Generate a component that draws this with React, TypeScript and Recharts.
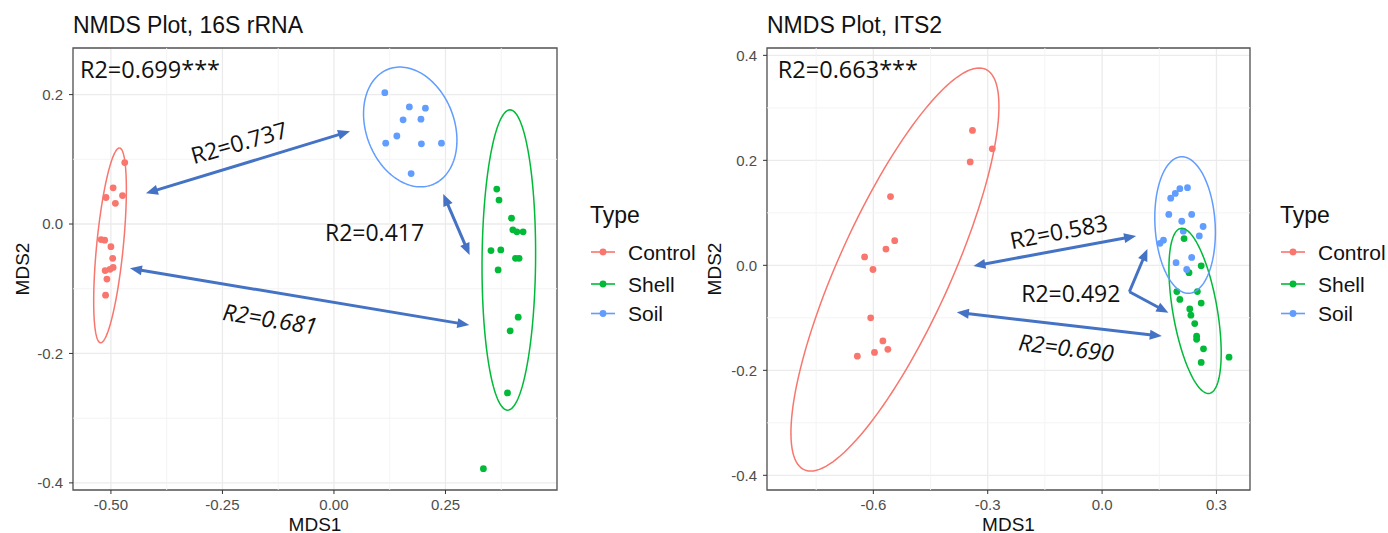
import React from "react";
import {
  ScatterChart,
  Scatter,
  XAxis,
  YAxis,
  CartesianGrid,
  ReferenceLine,
  ReferenceArea,
  ReferenceDot,
} from "recharts";

const typeNames = ["Control", "Shell", "Soil"];
const typeColors = ["#F8766D", "#00BA38", "#619CFF"];
const arrowBlue = "#4472C4";

// ---------- 16S rRNA ----------
const rrnaControl = [
  { x: -0.469, y: 0.095 }, { x: -0.495, y: 0.056 }, { x: -0.511, y: 0.041 },
  { x: -0.474, y: 0.044 }, { x: -0.49, y: 0.032 }, { x: -0.522, y: -0.024 },
  { x: -0.514, y: -0.025 }, { x: -0.5, y: -0.035 }, { x: -0.496, y: -0.053 },
  { x: -0.495, y: -0.067 }, { x: -0.502, y: -0.07 }, { x: -0.513, y: -0.072 },
  { x: -0.509, y: -0.085 }, { x: -0.512, y: -0.11 },
];
const rrnaShell = [
  { x: 0.365, y: 0.054 }, { x: 0.37, y: 0.037 }, { x: 0.398, y: 0.009 },
  { x: 0.401, y: -0.009 }, { x: 0.41, y: -0.012 }, { x: 0.424, y: -0.012 },
  { x: 0.352, y: -0.041 }, { x: 0.374, y: -0.04 }, { x: 0.407, y: -0.053 },
  { x: 0.415, y: -0.053 }, { x: 0.368, y: -0.071 }, { x: 0.413, y: -0.144 },
  { x: 0.395, y: -0.165 }, { x: 0.389, y: -0.261 }, { x: 0.335, y: -0.378 },
];
const rrnaSoil = [
  { x: 0.114, y: 0.203 }, { x: 0.169, y: 0.181 }, { x: 0.205, y: 0.179 },
  { x: 0.155, y: 0.161 }, { x: 0.195, y: 0.162 }, { x: 0.141, y: 0.136 },
  { x: 0.116, y: 0.125 }, { x: 0.196, y: 0.124 }, { x: 0.241, y: 0.125 },
  { x: 0.173, y: 0.078 },
];
// confidence ellipses: centre + two conjugate semi-axes (data units)
const rrnaEllipses = [
  { type: 0, cx: -0.502, cy: -0.033, ax: 0.021, ay: 0.1505, bx: 0.03, by: 0 },
  { type: 1, cx: 0.392, cy: -0.0556, ax: 0.0027, ay: 0.232, bx: 0.06, by: 0 },
  { type: 2, cx: 0.171, cy: 0.15, ax: -0.012, ay: 0.092, bx: 0.104, by: -0.01 },
];
const rrnaArrows = [
  { x1: -0.4215, y1: 0.0474, x2: 0.0359, y2: 0.1434, both: true },
  { x1: 0.245, y1: 0.0464, x2: 0.304, y2: -0.0479, both: true },
  { x1: -0.4574, y1: -0.0685, x2: 0.3034, y2: -0.1561, both: true },
];
const rrnaLabels = [
  { x: -0.5695, y: 0.2261, text: "R2=0.699***", angle: 0, corner: true, italic: false },
  { x: -0.213, y: 0.1267, text: "R2=0.737", angle: -16, corner: false, italic: false },
  { x: 0.091, y: -0.0116, text: "R2=0.417", angle: 0, corner: false, italic: false },
  { x: -0.143, y: -0.1458, text: "R2=0.681", angle: 9, corner: false, italic: true },
];
const rrnaXTicks = [-0.5, -0.25, 0, 0.25];
const rrnaXMinor = [-0.375, -0.125, 0.125, 0.375];
const rrnaYTicks = [-0.4, -0.2, 0, 0.2];
const rrnaYMinor = [-0.3, -0.1, 0.1];

// ---------- ITS2 ----------
const itsControl = [
  { x: -0.34, y: 0.257 }, { x: -0.288, y: 0.222 }, { x: -0.346, y: 0.197 },
  { x: -0.555, y: 0.131 }, { x: -0.544, y: 0.047 }, { x: -0.567, y: 0.031 },
  { x: -0.623, y: 0.016 }, { x: -0.601, y: -0.008 }, { x: -0.607, y: -0.1 },
  { x: -0.575, y: -0.144 }, { x: -0.562, y: -0.16 }, { x: -0.597, y: -0.166 },
  { x: -0.642, y: -0.173 },
];
const itsShell = [
  { x: 0.215, y: 0.051 }, { x: 0.26, y: -0.001 }, { x: 0.228, y: -0.014 },
  { x: 0.196, y: -0.05 }, { x: 0.25, y: -0.05 }, { x: 0.204, y: -0.065 },
  { x: 0.26, y: -0.072 }, { x: 0.23, y: -0.083 }, { x: 0.233, y: -0.095 },
  { x: 0.243, y: -0.111 }, { x: 0.248, y: -0.135 }, { x: 0.248, y: -0.141 },
  { x: 0.266, y: -0.159 }, { x: 0.26, y: -0.185 }, { x: 0.333, y: -0.175 },
];
const itsSoil = [
  { x: 0.224, y: 0.148 }, { x: 0.204, y: 0.146 }, { x: 0.192, y: 0.137 },
  { x: 0.18, y: 0.128 }, { x: 0.175, y: 0.097 }, { x: 0.235, y: 0.097 },
  { x: 0.209, y: 0.084 }, { x: 0.265, y: 0.074 }, { x: 0.213, y: 0.065 },
  { x: 0.255, y: 0.056 }, { x: 0.161, y: 0.048 }, { x: 0.152, y: 0.042 },
  { x: 0.235, y: 0.015 }, { x: 0.194, y: 0.005 }, { x: 0.222, y: -0.008 },
];
const itsEllipses = [
  { type: 0, cx: -0.5434, cy: -0.008, ax: 0.221, ay: 0.384, bx: 0.16, by: 0 },
  { type: 1, cx: 0.2439, cy: -0.0868, ax: -0.0349, ay: 0.1573, bx: 0.059, by: 0 },
  { type: 2, cx: 0.2177, cy: 0.0768, ax: -0.0085, ay: 0.13, bx: 0.079, by: 0 },
];
const itsArrows = [
  { x1: -0.3375, y1: -0.0013, x2: 0.0892, y2: 0.056, both: true },
  { x1: -0.381, y1: -0.0896, x2: 0.1566, y2: -0.1348, both: true },
  { x1: 0.0716, y1: -0.0503, x2: 0.1188, y2: 0.0311, both: false },
  { x1: 0.0716, y1: -0.0503, x2: 0.1739, y2: -0.0904, both: false },
];
const itsLabels = [
  { x: -0.8505, y: 0.3565, text: "R2=0.663***", angle: 0, corner: true, italic: false },
  { x: -0.114, y: 0.0654, text: "R2=0.583", angle: -11, corner: false, italic: false },
  { x: -0.082, y: -0.0519, text: "R2=0.492", angle: 0, corner: false, italic: false },
  { x: -0.094, y: -0.1558, text: "R2=0.690", angle: 7, corner: false, italic: true },
];
const itsXTicks = [-0.6, -0.3, 0, 0.3];
const itsXMinor = [-0.75, -0.45, -0.15, 0.15];
const itsYTicks = [-0.4, -0.2, 0, 0.2, 0.4];
const itsYMinor = [-0.3, -0.1, 0.1, 0.3];

const AXIS_FONT = "'Liberation Sans', Arial, sans-serif";
const NOTE_FONT = "'Open Sans', sans-serif";

function ellipseOutline(e: any) {
  const pts = [];
  const n = 144;
  for (let i = 0; i <= n; i++) {
    const t = (i / n) * Math.PI * 2;
    pts.push({
      x: e.cx + e.ax * Math.cos(t) + e.bx * Math.sin(t),
      y: e.cy + e.ay * Math.cos(t) + e.by * Math.sin(t),
    });
  }
  return pts;
}

const dotShape = (color: string) => (p: any) =>
  <circle cx={p.cx} cy={p.cy} r={3.4} fill={color} />;

const arrowShape = (both: boolean) => (p: any) => {
  const { x1, y1, x2, y2 } = p;
  const len = Math.hypot(x2 - x1, y2 - y1) || 1;
  const ux = (x2 - x1) / len;
  const uy = (y2 - y1) / len;
  const hl = 12;
  const hw = 5;
  const head = (tx: number, ty: number, dx: number, dy: number) => {
    const bx = tx - dx * hl;
    const by = ty - dy * hl;
    return `${tx},${ty} ${bx - dy * hw},${by + dx * hw} ${bx + dy * hw},${by - dx * hw}`;
  };
  const sx = both ? x1 + ux * (hl - 2) : x1;
  const sy = both ? y1 + uy * (hl - 2) : y1;
  return (
    <g>
      <line x1={sx} y1={sy} x2={x2 - ux * (hl - 2)} y2={y2 - uy * (hl - 2)}
        stroke={arrowBlue} strokeWidth={3} />
      {both && <polygon points={head(x1, y1, -ux, -uy)} fill={arrowBlue} />}
      <polygon points={head(x2, y2, ux, uy)} fill={arrowBlue} />
    </g>
  );
};

const labelShape = (l: any) => (p: any) => {
  if (l.corner) {
    return (
      <text x={p.cx} y={p.cy} fontFamily={NOTE_FONT} fontSize={23.5} fill="#111">
        {l.text}
      </text>
    );
  }
  return (
    <text
      transform={`translate(${p.cx},${p.cy}) rotate(${l.angle})`}
      textAnchor="middle"
      dominantBaseline="central"
      fontFamily={NOTE_FONT}
      fontSize={23}
      fontStyle={l.italic ? "italic" : "normal"}
      fill="#111"
    >
      {l.text}
    </text>
  );
};

function Panel(props: any) {
  const {
    offset, width, plotLeft, plotRight, title, xDomain, yDomain,
    xTicks, yTicks, xMinor, yMinor, xDigits, series, ellipses, arrows, labels,
    yTitleX,
  } = props;
  const height = 533;
  const plotTop = 48;
  const plotBottom = 490;
  const legendRows = [252, 284, 313.5];
  return (
    <div style={{ position: "absolute", left: offset, top: 0, width, height }}>
      <ScatterChart
        width={width}
        height={height}
        margin={{ top: plotTop, right: width - plotRight, bottom: 0, left: 0 }}
      >
        <CartesianGrid stroke="#ebebeb" strokeWidth={1.3} />
        {xMinor.map((v: number) => (
          <ReferenceLine key={"mx" + v} x={v} stroke="#f3f3f3" strokeWidth={0.9} />
        ))}
        {yMinor.map((v: number) => (
          <ReferenceLine key={"my" + v} y={v} stroke="#f3f3f3" strokeWidth={0.9} />
        ))}
        <XAxis
          type="number"
          dataKey="x"
          domain={xDomain}
          ticks={xTicks}
          interval={0}
          allowDataOverflow
          height={height - plotBottom}
          axisLine={false}
          tickLine={{ stroke: "#333" }}
          tickSize={4}
          tickMargin={5}
          tickFormatter={(v: number) => v.toFixed(xDigits)}
          tick={{ fontSize: 15, fill: "#4d4d4d", fontFamily: AXIS_FONT }}
        />
        <YAxis
          type="number"
          dataKey="y"
          domain={yDomain}
          ticks={yTicks}
          interval={0}
          allowDataOverflow
          width={plotLeft}
          axisLine={false}
          tickLine={{ stroke: "#333" }}
          tickSize={4}
          tickMargin={6}
          tickFormatter={(v: number) => v.toFixed(1)}
          tick={{ fontSize: 15, fill: "#4d4d4d", fontFamily: AXIS_FONT }}
        />
        {series.map((data: any[], i: number) => (
          <Scatter
            key={"pts" + i}
            data={data}
            fill={typeColors[i]}
            shape={dotShape(typeColors[i])}
            isAnimationActive={false}
          />
        ))}
        {ellipses.map((e: any, i: number) => (
          <Scatter
            key={"ell" + i}
            data={ellipseOutline(e)}
            fill={typeColors[e.type]}
            line={{ stroke: typeColors[e.type], strokeWidth: 1.5, fill: "none" }}
            lineType="joint"
            shape={() => <g />}
            isAnimationActive={false}
          />
        ))}
        <ReferenceArea
          x1={xDomain[0]}
          x2={xDomain[1]}
          y1={yDomain[0]}
          y2={yDomain[1]}
          fill="none"
          fillOpacity={0}
          stroke="#555"
          strokeWidth={1.3}
          ifOverflow="visible"
        />
        {arrows.map((a: any, i: number) => (
          <ReferenceLine
            key={"arr" + i}
            segment={[{ x: a.x1, y: a.y1 }, { x: a.x2, y: a.y2 }]}
            ifOverflow="visible"
            shape={arrowShape(a.both)}
          />
        ))}
        {labels.map((l: any, i: number) => (
          <ReferenceDot
            key={"lab" + i}
            x={l.x}
            y={l.y}
            r={0}
            ifOverflow="visible"
            shape={labelShape(l)}
          />
        ))}
      </ScatterChart>
      <svg
        width={width}
        height={height}
        style={{ position: "absolute", left: 0, top: 0, overflow: "visible", pointerEvents: "none" }}
      >
        <text x={plotLeft} y={33} fontFamily={AXIS_FONT} fontSize={23} fill="#111">
          {title}
        </text>
        <text
          x={(plotLeft + plotRight) / 2}
          y={531}
          textAnchor="middle"
          fontFamily={AXIS_FONT}
          fontSize={19}
          fill="#111"
        >
          MDS1
        </text>
        <text
          transform={`translate(${yTitleX},${(plotTop + plotBottom) / 2}) rotate(-90)`}
          textAnchor="middle"
          fontFamily={AXIS_FONT}
          fontSize={19}
          fill="#111"
        >
          MDS2
        </text>
        <text x={590} y={223.3} fontFamily={AXIS_FONT} fontSize={23} fill="#111">
          Type
        </text>
        {typeNames.map((name, i) => (
          <g key={name}>
            <line x1={591} x2={615} y1={legendRows[i]} y2={legendRows[i]}
              stroke={typeColors[i]} strokeWidth={1.6} />
            <circle cx={603} cy={legendRows[i]} r={3.4} fill={typeColors[i]} />
            <text x={628} y={legendRows[i] + 7.5} fontFamily={AXIS_FONT} fontSize={21} fill="#111">
              {name}
            </text>
          </g>
        ))}
      </svg>
    </div>
  );
}

export default function App() {
  return (
    <div style={{ position: "absolute", left: 0, top: 0, width: 1388, height: 533, background: "#fff" }}>
      <Panel
        offset={0}
        width={700}
        plotLeft={73}
        plotRight={557}
        title="NMDS Plot, 16S rRNA"
        xDomain={[-0.585, 0.5]}
        yDomain={[-0.411, 0.272]}
        xTicks={rrnaXTicks}
        yTicks={rrnaYTicks}
        xMinor={rrnaXMinor}
        yMinor={rrnaYMinor}
        xDigits={2}
        series={[rrnaControl, rrnaShell, rrnaSoil]}
        ellipses={rrnaEllipses}
        arrows={rrnaArrows}
        labels={rrnaLabels}
        yTitleX={29}
      />
      <Panel
        offset={690}
        width={698}
        plotLeft={77}
        plotRight={560}
        title="NMDS Plot, ITS2"
        xDomain={[-0.879, 0.388]}
        yDomain={[-0.428, 0.414]}
        xTicks={itsXTicks}
        yTicks={itsYTicks}
        xMinor={itsXMinor}
        yMinor={itsYMinor}
        xDigits={1}
        series={[itsControl, itsShell, itsSoil]}
        ellipses={itsEllipses}
        arrows={itsArrows}
        labels={itsLabels}
        yTitleX={31}
      />
    </div>
  );
}
